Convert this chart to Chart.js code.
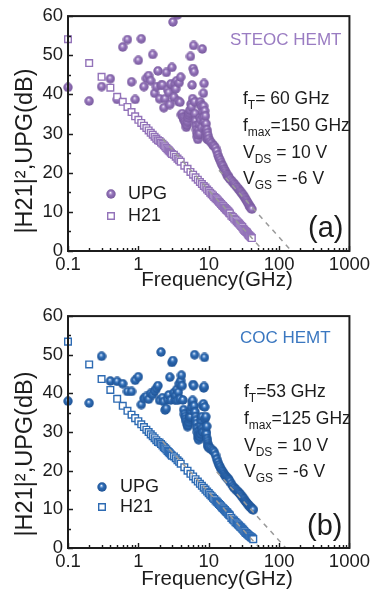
<!DOCTYPE html>
<html><head><meta charset="utf-8">
<script src="https://cdn.jsdelivr.net/npm/chart.js@4.4.1/dist/chart.umd.min.js"></script>
<style>
html,body{margin:0;padding:0;background:#fff;width:373px;height:602px;overflow:hidden}
canvas{position:absolute;left:0}
</style></head><body>
<canvas id="ca" style="top:0" width="373" height="300"></canvas>
<canvas id="cb" style="top:300px" width="373" height="302"></canvas>
<script>
// ---------- axis ticks ----------
const xTickValues = [0.1, 1, 10, 100, 1000];
const yTickValues = [0, 10, 20, 30, 40, 50, 60];

// ---------- panel (a) STEOC HEMT ----------
const freqA_H21 = [0.1,0.2,0.3,0.4,0.5,0.6,0.7,0.8,0.9,1.0,1.1,1.2,1.3,1.4,1.5,1.6,1.7,1.8,1.9,2.0,2.1,2.2,2.3,2.4,2.5,2.6,2.7,2.8,2.9,3.0,
  3.2,3.4,3.6,3.8,4.0,4.5,5,5.5,6,6.5,7,7.5,8,8.5,9,9.5,10,10.5,11,11.5,12,12.5,13,13.5,14,14.5,15,15.5,16,16.5,17,17.5,18,18.5,19,19.5,20,
  21,22,23,24,25,26,27,28,29,30,31,32,33,34,35,36,37,38,39,40,41];
const h21A = [54.1,48.0,44.5,41.7,39.4,38.1,36.8,35.5,34.4,33.5,32.7,32.0,31.4,30.8,30.2,29.7,29.2,28.7,28.3,
  28.1,27.7,27.4,27.0,26.7,26.3,26.0,25.7,25.4,25.1,24.8,
  24.6,24.1,23.6,23.2,22.8,21.8,21.0,20.2,19.5,18.8,18.2,17.6,17.1,16.6,16.2,15.7,15.3,
  14.9,14.5,14.2,13.8,13.5,13.2,12.9,12.6,12.3,12.0,11.7,11.5,11.2,11.0,10.7,10.5,10.3,10.1,9.8,9.6,
  9.0,8.7,8.3,8.0,7.6,7.3,7.0,6.7,6.4,6.1,5.7,5.4,5.1,4.9,4.7,4.4,4.1,3.9,3.7,3.5,3.3];
const freqA_UPG = [0.1,0.2,0.3,0.4,0.5,0.6,0.7,0.8,0.9,1.0,1.1,1.2,1.3,1.4,1.5,1.6,1.7,1.8,1.9,2.0,2.1,2.2,2.3,2.4,2.5,2.6,2.7,2.8,2.9,3.0,
  3.1,3.2,3.3,3.4,3.5,3.6,3.7,3.8,3.9,4.0,4.1,4.2,4.3,4.4,4.5,4.6,4.7,4.8,4.9,5.0,5.1,5.2,5.3,5.4,5.5,5.6,5.7,5.8,5.9,6.0,
  6.1,6.2,6.3,6.4,6.5,6.6,6.7,6.8,6.9,7.0,7.1,7.2,7.3,7.4,7.5,7.6,7.7,7.8,7.9,8.0,8.1,8.2,8.3,8.4,8.5,8.6,8.7,8.8,8.9,9.0,
  9.1,9.2,9.3,9.4,9.5,9.6,9.7,9.8,9.9,10.0,10.5,11,11.5,12,12.5,13,13.5,14,14.5,15,15.5,16,16.5,17,17.5,18,18.5,19,19.5,20,
  21,22,23,24,25,26,27,28,29,30,31,32,33,34,35,36,37,38,39,40,41];
const upgA = [41.8,38.3,42.0,44.0,38.7,52.1,54.0,43.2,38.7,48.7,54.2,42.0,44.1,44.8,43.5,50.2,40.3,42.0,46.0,38.9,
  42.3,42.4,36.6,38.9,45.6,41.2,40.5,37.4,42.7,46.9,58.5,39.3,42.8,41.4,43.5,60.3,38.2,43.0,38.0,44.4,
  34.8,35.1,34.2,33.9,33.4,33.0,32.5,31.6,32.2,33.0,34.0,34.7,35.3,36.0,49.7,37.5,36.8,42.4,38.9,46.6,
  52.5,45.8,38.1,35.1,33.2,32.0,31.0,30.1,29.2,28.5,29.6,31.0,32.5,30.0,34.0,38.1,33.5,37.2,31.5,36.8,
  51.6,35.5,34.2,40.3,37.0,42.8,33.0,35.8,31.5,34.5,30.0,32.5,29.2,31.0,28.6,30.2,28.8,29.5,28.4,28.7,
  28.0,27.6,27.0,26.8,26.3,25.5,24.5,23.8,23.2,22.6,22.0,21.6,21.0,20.6,20.1,19.6,19.3,19.0,18.7,18.4,
  18.0,17.6,17.2,16.8,16.4,16.0,15.7,15.3,15.0,14.6,14.3,13.9,13.5,13.1,12.7,12.3,11.9,11.5,11.2,10.9,10.7];
// -20 dB/dec extrapolations (fT = 60 GHz, fmax = 150 GHz)
const extA_H21_f = [2.2, 60],  extA_H21_db = [28.7, 0];
const extA_UPG_f = [14, 150],  extA_UPG_db = [20.6, 0];

// ---------- panel (b) COC HEMT ----------
const freqB_H21 = [0.1,0.2,0.3,0.4,0.5,0.6,0.7,0.8,0.9,1.0,1.1,1.2,1.3,1.4,1.5,1.6,1.7,1.8,1.9,2.0,2.1,2.2,2.3,2.4,2.5,2.6,2.7,2.8,2.9,3.0,
  3.2,3.4,3.6,3.8,4.0,4.5,5,5.5,6,6.5,7,7.5,8,8.5,9,9.5,10,10.5,11,11.5,12,12.5,13,13.5,14,14.5,15,15.5,16,16.5,17,17.5,18,18.5,19,19.5,20,
  21,22,23,24,25,26,27,28,29,30,31,32,33,34,35,36,37,38,39,40,41,42,43];
const h21B = [53.4,47.5,43.7,40.9,38.6,36.8,35.5,34.5,33.6,32.8,32.0,31.3,30.6,30.0,29.4,28.9,28.4,27.9,27.4,
  27.3,26.9,26.5,26.1,25.8,25.5,25.1,24.8,24.5,24.2,23.9,
  23.7,23.2,22.7,22.3,21.8,20.9,20.0,19.2,18.5,17.8,17.2,16.6,16.1,15.6,15.1,14.6,14.2,
  13.8,13.4,13.0,12.7,12.3,12.0,11.7,11.4,11.1,10.8,10.5,10.3,10.0,9.8,9.5,9.3,9.1,8.8,8.6,8.4,
  7.8,7.4,7.1,6.7,6.4,6.1,5.8,5.5,5.3,5.0,4.7,4.4,4.1,3.9,3.7,3.5,3.3,3.1,3.0,2.8,2.7,2.5,2.3];
const freqB_UPG = [0.1,0.2,0.3,0.4,0.5,0.6,0.7,0.8,0.9,1.0,1.1,1.2,1.3,1.4,1.5,1.6,1.7,1.8,1.9,2.0,2.1,2.2,2.3,2.4,2.5,2.6,2.7,2.8,2.9,3.0,
  3.1,3.2,3.3,3.4,3.5,3.6,3.7,3.8,3.9,4.0,4.1,4.2,4.3,4.4,4.5,4.6,4.7,4.8,4.9,5.0,5.1,5.2,5.3,5.4,5.5,5.6,5.7,5.8,5.9,6.0,
  6.1,6.2,6.3,6.4,6.5,6.6,6.7,6.8,6.9,7.0,7.1,7.2,7.3,7.4,7.5,7.6,7.7,7.8,7.9,8.0,8.1,8.2,8.3,8.4,8.5,8.6,8.7,8.8,8.9,9.0,
  9.1,9.2,9.3,9.4,9.5,9.6,9.7,9.8,9.9,10.0,10.5,11,11.5,12,12.5,13,13.5,14,14.5,15,15.5,16,16.5,17,17.5,18,18.5,19,19.5,20,
  21,22,23,24,25,26,27,28,29,30,31,32,33,34,35,36,37,38,39,40,41,42,43];
const upgB = [38.0,37.5,49.6,43.2,43.1,42.5,40.5,40.5,43.4,44.3,37.1,38.7,39.2,38.5,40.0,39.7,40.6,41.3,42.0,38.2,
  50.7,38.9,37.9,35.7,36.1,38.5,39.6,44.2,38.3,48.0,48.5,40.2,38.4,39.5,41.0,38.2,40.3,42.5,38.6,43.3,
  44.7,42.0,38.3,35.8,34.6,34.0,33.4,32.8,32.0,31.4,31.8,32.5,33.3,33.8,34.0,35.6,36.5,37.8,38.2,42.3,
  42.0,36.8,50.0,35.2,34.0,33.0,32.2,31.0,30.0,29.2,28.4,28.0,29.0,30.5,28.8,31.8,29.5,33.0,30.3,34.0,
  31.0,36.8,30.0,37.3,41.4,41.8,49.3,36.5,33.5,31.2,34.0,30.0,29.5,31.5,28.3,27.6,27.0,26.5,26.2,26.0,
  25.8,25.5,25.2,24.8,24.0,23.0,22.2,21.5,21.0,20.4,20.0,19.6,19.2,18.8,18.5,18.3,18.0,17.8,17.5,17.2,
  16.6,16.0,15.6,15.2,14.9,14.6,14.3,14.0,13.6,13.3,12.9,12.6,12.2,11.9,11.6,11.3,11.1,10.8,10.6,10.4,10.2,10.0,9.9];
// -20 dB/dec extrapolations (fT = 53 GHz, fmax = 125 GHz)
const extB_H21_f = [2.2, 53],  extB_H21_db = [27.6, 0];
const extB_UPG_f = [13, 125],  extB_UPG_db = [19.7, 0];

// ---------- drawing ----------
const FONT = "'Liberation Sans', Arial, Helvetica, sans-serif";
Chart.defaults.font.family = FONT;

function ballSprite(base, light, dark) {
  const c = document.createElement('canvas');
  c.width = c.height = 10;
  const g = c.getContext('2d');
  const gr = g.createRadialGradient(4.3, 3.6, 0.1, 5, 5, 4.9);
  gr.addColorStop(0, '#ffffff');
  gr.addColorStop(0.16, light);
  gr.addColorStop(0.42, base);
  gr.addColorStop(1, dark);
  g.fillStyle = gr;
  g.beginPath(); g.arc(5, 5, 4.7, 0, Math.PI * 2); g.fill();
  return c;
}
const pts = (xs, ys) => xs.map((x, i) => ({x: x, y: ys[i]}));

function makePanel(id, cfg) {
  const ball = ballSprite(cfg.color, cfg.light, cfg.dark);
  const annot = {
    id: 'annot',
    afterDraw(chart) {
      const ctx = chart.ctx, a = chart.chartArea, xs = chart.scales.x, ys = chart.scales.y;
      ctx.save();
      // frame
      ctx.strokeStyle = '#1c1c1c'; ctx.lineWidth = 2;
      ctx.strokeRect(a.left, a.top, a.right - a.left, a.bottom - a.top);
      // inward ticks
      ctx.lineWidth = 1.4;
      ctx.beginPath();
      xTickValues.forEach(v => { const p = Math.round(xs.getPixelForValue(v)) + 0.5; ctx.moveTo(p, a.bottom); ctx.lineTo(p, a.bottom - 5); });
      [0.1, 1, 10, 100].forEach(d => { for (let k = 2; k <= 9; k++) { const p = Math.round(xs.getPixelForValue(d * k)) + 0.5; ctx.moveTo(p, a.bottom); ctx.lineTo(p, a.bottom - 3); } });
      yTickValues.forEach(v => { const p = Math.round(ys.getPixelForValue(v)) + 0.5; ctx.moveTo(a.left, p); ctx.lineTo(a.left + 5, p); });
      for (let v = 5; v < 60; v += 10) { const p = Math.round(ys.getPixelForValue(v)) + 0.5; ctx.moveTo(a.left, p); ctx.lineTo(a.left + 3, p); }
      ctx.stroke();

      // axis titles
      ctx.fillStyle = '#1c1c1c';
      ctx.textAlign = 'center'; ctx.textBaseline = 'middle';
      ctx.font = '20.5px ' + FONT;
      ctx.fillText('Frequency(GHz)', 217, cfg.xTitleY);
      ctx.save();
      ctx.translate(26, cfg.yTitleY); ctx.rotate(-Math.PI / 2);
      ctx.font = '23.5px ' + FONT;
      ctx.fillText('|H21|\u00B2,UPG(dB)', 0, 0);
      ctx.restore();

      // device name
      ctx.textAlign = 'left'; ctx.textBaseline = 'alphabetic';
      ctx.fillStyle = cfg.textColor;
      ctx.font = '17px ' + FONT;
      ctx.fillText(cfg.name, cfg.nameX, cfg.nameY);

      // parameters with subscripts
      ctx.fillStyle = '#1c1c1c';
      cfg.params.forEach((line, i) => {
        let x = cfg.paramX; const y = cfg.paramY[i];
        line.forEach(([t, sub]) => {
          ctx.font = (sub ? '12px ' : '17.5px ') + FONT;
          ctx.fillText(t, x, sub ? y + 5 : y);
          x += ctx.measureText(t).width;
        });
      });
      // panel label
      ctx.font = '29px ' + FONT;
      ctx.fillText(cfg.label, cfg.labelX, cfg.labelY);

      // legend
      ctx.drawImage(ball, cfg.legX - 5, cfg.legY1 - 5);
      ctx.fillStyle = '#fff'; ctx.strokeStyle = cfg.color; ctx.lineWidth = 1.4;
      ctx.beginPath(); ctx.rect(cfg.legX - 3.3, cfg.legY2 - 3.3, 6.6, 6.6); ctx.fill(); ctx.stroke();
      ctx.fillStyle = '#1c1c1c'; ctx.font = '18px ' + FONT; ctx.textBaseline = 'middle';
      ctx.fillText('UPG', cfg.legTX, cfg.legY1);
      ctx.fillText('H21', cfg.legTX, cfg.legY2);
      ctx.restore();
    }
  };

  return new Chart(document.getElementById(id), {
    type: 'scatter',
    data: {
      datasets: [
        { label: 'ext H21', type: 'line', data: pts(cfg.extH21f, cfg.extH21db), borderColor: '#9a9a9a', borderWidth: 1.5, borderDash: [5, 5], pointRadius: 0, showLine: true, fill: false, order: 0, clip: 0 },
        { label: 'ext UPG', type: 'line', data: pts(cfg.extUPGf, cfg.extUPGdb), borderColor: '#9a9a9a', borderWidth: 1.5, borderDash: [5, 5], pointRadius: 0, showLine: true, fill: false, order: 0, clip: 0 },
        { label: 'H21', data: pts(cfg.fH21, cfg.h21), pointStyle: 'rect', pointRadius: 4.7, pointBorderWidth: 1.4, pointBackgroundColor: '#ffffff', pointBorderColor: cfg.color, order: 1, clip: {left: 8, top: 0, right: 0, bottom: 0} },
        { label: 'UPG', data: pts(cfg.fUPG, cfg.upg), pointStyle: ball, pointRadius: 5, order: 2, clip: {left: 8, top: 0, right: 0, bottom: 0} }
      ]
    },
    options: {
      responsive: false, animation: false, devicePixelRatio: 1,
      layout: { padding: { top: 13, right: 21, left: 0, bottom: 0 } },
      plugins: { legend: { display: false }, tooltip: { enabled: false }, title: { display: false } },
      scales: {
        x: {
          type: 'logarithmic', min: 0.1, max: 1000,
          grid: { display: false, drawTicks: false }, border: { display: false },
          afterBuildTicks: s => { s.ticks = xTickValues.map(v => ({ value: v })); },
          afterFit: s => { s.height = cfg.xAxisH; },
          ticks: { autoSkip: false, maxRotation: 0, minRotation: 0, padding: 3, color: '#1c1c1c', font: { size: 18.5 }, callback: v => String(v) }
        },
        y: {
          min: 0, max: 60,
          grid: { display: false, drawTicks: false }, border: { display: false },
          afterBuildTicks: s => { s.ticks = yTickValues.map(v => ({ value: v })); },
          afterFit: s => { s.width = 68; },
          ticks: { padding: 5, color: '#1c1c1c', font: { size: 18.5 }, callback: v => String(v) }
        }
      }
    },
    plugins: [annot]
  });
}

makePanel('ca', {
  color: '#9373b9', light: '#c8b3df', dark: '#77589c', textColor: '#9a7cc2',
  fH21: freqA_H21, h21: h21A, fUPG: freqA_UPG, upg: upgA,
  extH21f: extA_H21_f, extH21db: extA_H21_db, extUPGf: extA_UPG_f, extUPGdb: extA_UPG_db,
  xAxisH: 49, xTitleY: 280, yTitleY: 151,
  name: 'STEOC HEMT', nameX: 230, nameY: 45,
  paramX: 243, paramY: [104, 131, 158, 184],
  params: [[['f'], ['T', 1], ['= 60 GHz']], [['f'], ['max', 1], ['=150 GHz']], [['V'], ['DS', 1], [' = 10 V']], [['V'], ['GS', 1], [' = -6 V']]],
  label: '(a)', labelX: 308, labelY: 237,
  legX: 111, legY1: 194, legY2: 216, legTX: 128
});
makePanel('cb', {
  color: '#2e6bb3', light: '#8db4e4', dark: '#1e5294', textColor: '#3a77c0',
  fH21: freqB_H21, h21: h21B, fUPG: freqB_UPG, upg: upgB,
  extH21f: extB_H21_f, extH21db: extB_H21_db, extUPGf: extB_UPG_f, extUPGdb: extB_UPG_db,
  xAxisH: 54, xTitleY: 279, yTitleY: 154,
  name: 'COC HEMT', nameX: 240, nameY: 43,
  paramX: 244, paramY: [97, 124, 151, 177],
  params: [[['f'], ['T', 1], ['=53 GHz']], [['f'], ['max', 1], ['=125 GHz']], [['V'], ['DS', 1], [' = 10 V']], [['V'], ['GS', 1], [' = -6 V']]],
  label: '(b)', labelX: 307, labelY: 235,
  legX: 102, legY1: 187, legY2: 207, legTX: 120
});
</script>
</body></html>
